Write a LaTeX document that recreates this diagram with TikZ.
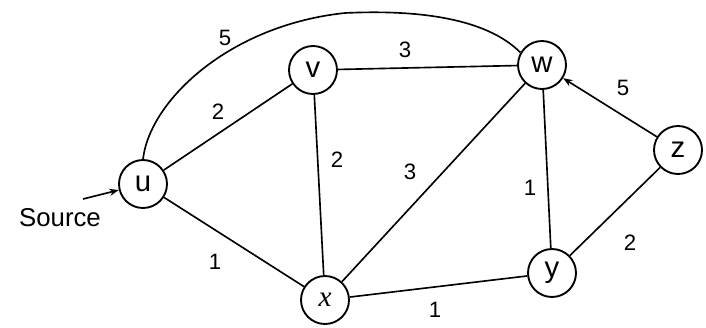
\documentclass[tikz,border=0pt]{standalone}
\usepackage{fontspec}
\setmainfont{Liberation Sans}
\newfontfamily\xfont{Liberation Serif}
\usetikzlibrary{arrows.meta}
\begin{document}
\begin{tikzpicture}[x=0.03cm,y=-0.03cm,
  vert/.style={circle,draw,line width=1.6pt,minimum size=48*0.03cm,inner sep=0pt,font=\fontsize{25}{25}\selectfont},
  edge/.style={line width=1.4pt},
  wt/.style={font=\fontsize{19}{19}\selectfont}]
\useasboundingbox (0,0) rectangle (706,327);
\node[vert] (u) at (143,184) {u};
\node[vert] (v) at (313,70) {v};
\node[vert] (w) at (542,65) {w};
\node[vert] (z) at (678,150) {z};
\node[vert] (x) at (325,300) {\xfont\itshape x};
\node[vert] (y) at (552,273) {y};
\coordinate (top) at (345,13);
\draw[edge] (u.north) .. controls (150,100) and (230,25) .. (top) .. controls (430,9) and (490,22) .. (w.150);
\draw[edge] (u) -- (v);
\draw[edge] (v) -- (w);
\draw[edge] (v) -- (x);
\draw[edge] (x) -- (w);
\draw[edge] (w) -- (y);
\draw[edge,-{Stealth[length=8pt,width=6pt]}] (z) -- (w);
\draw[edge] (z) -- (y);
\draw[edge] (u) -- (x);
\draw[edge] (x) -- (y);
\node[wt] (l1) at (225,38) {5};
\node[wt] (l2) at (218,112) {2};
\node[wt] (l3) at (405,50) {3};
\node[wt] (l4) at (337,160) {2};
\node[wt] (l5) at (410,172) {3};
\node[wt] (l6) at (530,188) {1};
\node[wt] (l7) at (623,88) {5};
\node[wt] (l8) at (630,243) {2};
\node[wt] (l9) at (215,262) {1};
\node[wt] (l10) at (435,310) {1};
\node[font=\fontsize{22}{22}\selectfont] (src) at (60,218) {Source};
\coordinate (s0) at (83,199);
\draw[edge,-{Stealth[length=8pt,width=6pt]}] (s0) -- (u);
\end{tikzpicture}
\end{document}
